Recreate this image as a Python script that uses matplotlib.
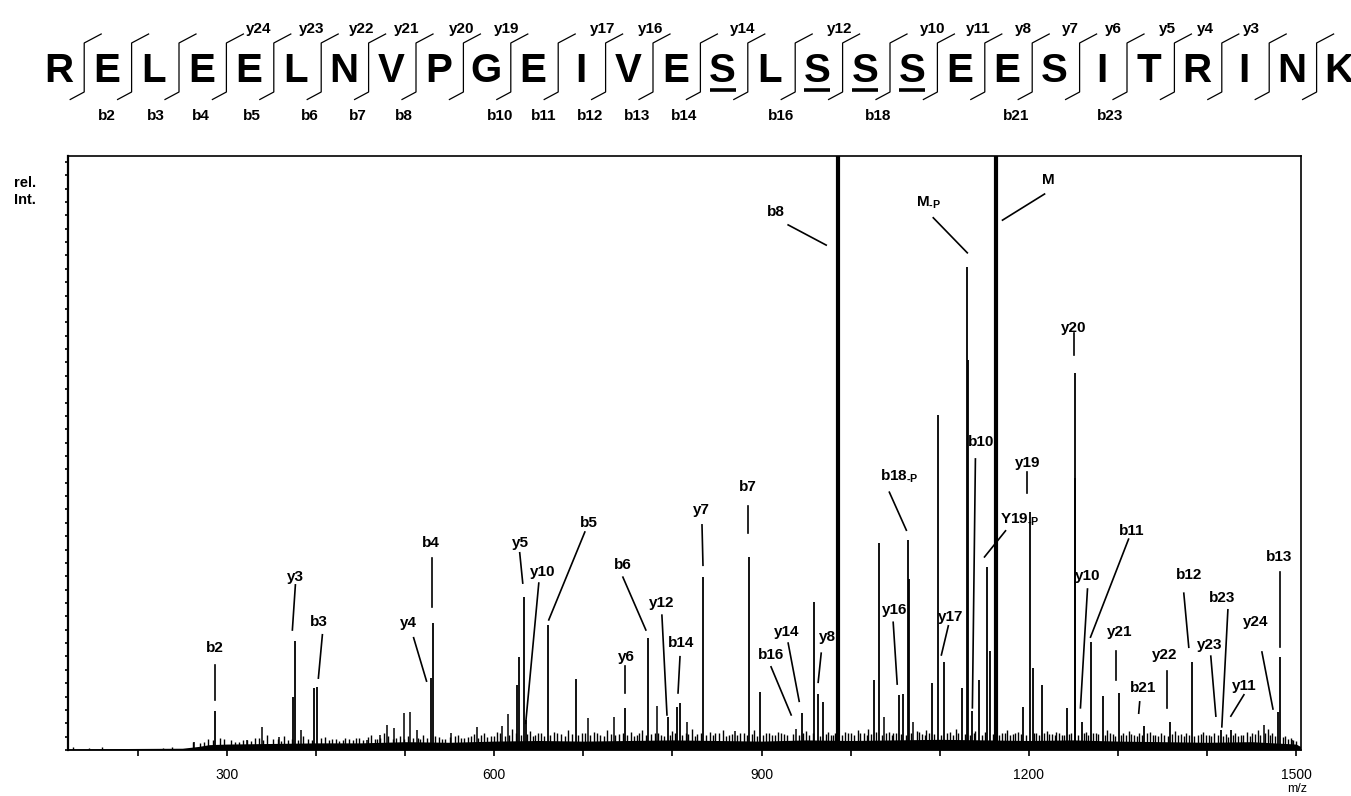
import numpy as np
import matplotlib
matplotlib.use("Agg")
import matplotlib.pyplot as plt

plt.rcParams['font.family'] = ['Liberation Sans', 'DejaVu Sans']
plt.rcParams['mathtext.fontset'] = 'custom'
plt.rcParams['mathtext.rm'] = 'Liberation Sans:bold'
plt.rcParams['mathtext.bf'] = 'Liberation Sans:bold'
plt.rcParams['mathtext.it'] = 'Liberation Sans:bold'

# ---------------- data ----------------
sequence = list("RELEELNVPGEIVESLSSSEESITRINK")
phospho_sites = [14, 16, 17, 18]          # underlined residues (0-based)
b_ion_names = ["b2", "b3", "b4", "b5", "b6", "b7", "b8", "b10", "b11", "b12",
               "b13", "b14", "b16", "b18", "b21", "b23"]
y_ion_names = ["y24", "y23", "y22", "y21", "y20", "y19", "y17", "y16", "y14",
               "y12", "y10", "y11", "y8", "y7", "y6", "y5", "y4", "y3"]

peak_mz = [286.8, 376.8, 374.5, 398.1, 401.2, 528.6, 530.8, 626.0, 627.5, 633.1,
           635.3, 660.1, 691.6, 746.6, 772.1, 795.0, 805.6, 808.0, 834.3, 886.0,
           898.4, 945.6, 959.0, 963.5, 969.0, 986.0, 1026.6, 1032.2, 1054.7, 1059.2,
           1064.8, 1065.5, 1091.8, 1098.6, 1105.3, 1125.6, 1130.6, 1131.5, 1136.0, 1144.6,
           1153.6, 1157.0, 1163.7, 1194.0, 1201.9, 1204.2, 1214.3, 1242.4, 1251.4, 1252.0,
           1259.3, 1269.4, 1282.9, 1300.9, 1329.0, 1358.2, 1383.0, 1415.6, 1426.8, 1479.7,
           1482.0]
peak_int = [6.6, 18.4, 8.9, 10.4, 10.6, 12.1, 21.4, 10.9, 15.7, 25.8,
            5.0, 21.0, 12.0, 7.1, 18.9, 5.6, 7.2, 7.9, 29.1, 32.5,
            9.8, 6.2, 24.9, 9.4, 8.1, 130.0, 11.8, 34.8, 9.3, 9.4,
            35.4, 28.8, 11.3, 56.4, 14.8, 10.4, 81.3, 65.7, 6.5, 11.8,
            30.8, 16.7, 130.0, 7.2, 40.0, 13.8, 10.9, 7.1, 63.5, 45.8,
            4.7, 18.2, 9.1, 9.6, 4.0, 4.7, 14.8, 3.4, 3.4, 6.4,
            15.7]

minor_mz = [262.5, 322.5, 339.3, 358.0, 383.2, 457.4, 472.3, 479.9, 487.3, 498.5,
            505.3, 513.6, 551.0, 581.0, 609.2, 615.5, 704.7, 734.0, 782.3, 816.7,
            870.3, 938.9, 1037.8, 1070.4, 1464.0, 1496.0]
minor_int = [1.3, 1.7, 3.9, 2.2, 3.4, 1.7, 2.5, 4.2, 3.7, 6.2,
             6.4, 3.4, 2.9, 3.9, 4.0, 6.1, 5.4, 5.6, 7.4, 4.7,
             3.2, 3.5, 5.6, 4.7, 4.2, 1.7]

grass_mz = [127, 145, 160, 228, 238, 262, 270, 279, 292, 305, 313, 322, 331, 345, 352,
            364, 369, 385, 391, 410, 418, 426, 433, 441, 448, 462, 468, 476, 494, 509,
            520, 538, 545, 556, 563, 570, 577, 588, 596, 603, 620, 640, 646, 652, 667,
            675, 683, 698, 712, 719, 727, 740, 753, 760, 766, 780, 787, 800, 815, 822,
            828, 842, 848, 857, 863, 876, 892, 905, 912, 919, 925, 950, 975, 980, 994,
            1001, 1008, 1015, 1020, 1043, 1048, 1074, 1080, 1085, 1112, 1118, 1140, 1170, 1176, 1182,
            1188, 1208, 1220, 1226, 1231, 1237, 1247, 1264, 1275, 1288, 1294, 1306, 1312, 1318, 1324,
            1336, 1342, 1348, 1364, 1371, 1377, 1390, 1396, 1402, 1408, 1421, 1432, 1438, 1445, 1451,
            1457, 1468, 1473, 1488, 1494, 1500]
grass_int = [0.5, 0.4, 0.5, 0.4, 0.5, 1.3, 1.2, 1.8, 2.0, 1.6, 1.4, 1.7, 2.1, 2.5, 1.8,
             2.3, 1.6, 2.4, 1.9, 2.2, 1.8, 1.5, 2.0, 1.7, 2.1, 2.6, 1.9, 2.8, 2.3, 2.0,
             2.6, 2.2, 1.9, 2.4, 2.0, 2.2, 2.7, 2.9, 2.4, 3.0, 3.5, 3.2, 2.6, 2.9, 3.0,
             2.7, 3.4, 2.8, 3.1, 2.5, 3.3, 2.7, 3.0, 2.6, 3.4, 2.9, 2.6, 3.2, 2.9, 3.6,
             2.7, 3.1, 2.8, 3.3, 2.6, 2.9, 3.4, 2.8, 2.5, 3.0, 2.7, 3.2, 3.0, 2.6, 3.1,
             2.8, 3.3, 2.9, 3.5, 3.1, 2.8, 3.2, 2.7, 3.4, 3.0, 3.6, 3.2, 2.9, 3.3, 2.7,
             3.1, 2.8, 3.2, 2.7, 3.0, 2.6, 2.9, 3.1, 2.8, 3.3, 2.7, 2.9, 3.2, 2.6, 2.8,
             3.0, 2.5, 2.9, 3.2, 2.7, 2.9, 2.6, 3.0, 2.5, 2.8, 2.7, 2.9, 2.5, 3.1, 2.8,
             3.3, 3.5, 2.9, 2.4, 2.0, 1.5]

grass2_mz = [274, 284, 297, 309, 318, 327, 336, 341, 357, 361,
             373, 380, 395, 405, 414, 422, 430, 437, 445, 453,
             458, 466, 472, 481, 486, 490, 499, 503, 514, 517,
             524, 533, 541, 550, 559, 566, 574, 582, 585, 592,
             600, 607, 612, 617, 624, 630, 637, 644, 649, 656,
             663, 671, 679, 687, 694, 702, 708, 715, 723, 731,
             736, 744, 749, 757, 763, 770, 776, 784, 791, 797,
             803, 811, 818, 825, 832, 838, 845, 852, 860, 867,
             873, 880, 884, 889, 895, 902, 908, 915, 922, 929,
             935, 942, 947, 953, 958, 966, 972, 978, 983, 990,
             997, 1004, 1011, 1018, 1023, 1029, 1035, 1040, 1046, 1051,
             1057, 1062, 1068, 1077, 1083, 1088, 1094, 1102, 1108, 1115,
             1121, 1128, 1134, 1138, 1147, 1151, 1160, 1167, 1173, 1179,
             1185, 1191, 1197, 1206, 1211, 1217, 1223, 1229, 1234, 1240,
             1245, 1255, 1262, 1267, 1272, 1278, 1285, 1291, 1297, 1303,
             1309, 1315, 1321, 1327, 1333, 1339, 1345, 1352, 1356, 1361,
             1367, 1374, 1380, 1386, 1393, 1399, 1405, 1412, 1418, 1424,
             1429, 1435, 1441, 1448, 1454, 1460, 1465, 1471, 1476, 1485,
             1491, 1497]
grass2_int = [1.3, 1.6, 1.9, 1.4, 1.7, 1.5, 2.0, 1.6, 1.8, 1.5,
              1.9, 1.7, 1.6, 2.0, 1.7, 1.9, 1.6, 1.8, 2.0, 1.7,
              2.2, 1.8, 2.0, 2.3, 1.9, 2.1, 1.8, 2.4, 2.0, 1.9,
              2.1, 2.3, 1.9, 2.2, 2.5, 2.0, 2.3, 2.1, 2.6, 2.2,
              2.4, 2.8, 2.3, 2.6, 2.9, 2.5, 2.7, 2.4, 2.8, 2.3,
              2.6, 2.9, 2.4, 2.7, 2.5, 2.8, 2.6, 2.9, 2.4, 2.7,
              2.5, 2.8, 2.6, 2.4, 2.9, 2.5, 2.7, 2.8, 2.4, 2.6,
              2.9, 2.5, 2.7, 2.4, 2.8, 2.6, 2.5, 2.9, 2.4, 2.7,
              2.6, 2.8, 2.5, 2.7, 2.4, 2.6, 2.9, 2.5, 2.8, 2.6,
              2.7, 2.5, 2.9, 2.6, 2.8, 2.4, 2.7, 2.5, 2.9, 2.6,
              2.8, 2.6, 2.9, 2.5, 2.7, 3.0, 2.6, 2.8, 2.5, 2.9,
              2.7, 2.5, 2.8, 3.0, 2.6, 2.9, 2.7, 2.5, 2.8, 2.6,
              2.9, 2.7, 2.5, 2.8, 2.6, 3.0, 2.7, 2.5, 2.8, 2.6,
              2.9, 2.7, 2.5, 2.8, 2.6, 2.9, 2.7, 2.5, 2.8, 2.6,
              2.7, 2.5, 2.8, 2.6, 2.9, 2.7, 2.5, 2.8, 2.4, 2.6,
              2.5, 2.7, 2.4, 2.6, 2.8, 2.5, 2.3, 2.6, 2.4, 2.7,
              2.5, 2.3, 2.6, 2.4, 2.7, 2.5, 2.3, 2.6, 2.4, 2.2,
              2.5, 2.3, 2.6, 2.4, 2.7, 2.5, 2.8, 2.6, 2.4, 2.2,
              1.9, 1.6]

floor_mz = [121, 250, 268, 280, 300, 350, 400, 450, 500, 550, 600, 650, 700, 750, 800,
            850, 900, 950, 1000, 1050, 1100, 1150, 1200, 1250, 1300, 1350, 1400, 1450, 1500, 1505]
floor_int = [0.2, 0.3, 0.6, 0.9, 1.0, 1.1, 1.2, 1.2, 1.4, 1.3, 1.5, 1.6, 1.5, 1.6, 1.7,
             1.6, 1.5, 1.7, 1.6, 1.7, 1.8, 1.7, 1.6, 1.7, 1.5, 1.4, 1.3, 1.4, 1.0, 0.6]

x_major = [300, 600, 900, 1200, 1500]
x_minor = [200, 400, 500, 700, 800, 1000, 1100, 1300, 1400]

# ---------------- layout (pixel positions in the header) ----------------
b_label_x = [107, 156, 201, 252, 310, 358, 404, 500, 544, 590, 637, 684, 781, 878, 1016, 1110]
y_label_x = [259, 312, 362, 407, 462, 507, 603, 651, 743, 840, 933, 978, 1023, 1070, 1113, 1167, 1205, 1251]

SUB = "$_{\\mathregular{\u2010P}}$"

# annotation layout: label, text (mz, int), leader line start, leader line end
annotations = [
    ("b2", 286.8, 17.2, 286.8, 14.3, 286.8, 8.4),
    ("y3", 376.8, 29.1, 376.8, 27.8, 373.4, 20.2),
    ("b3", 403.0, 21.5, 407.1, 19.4, 402.6, 12.1),
    ("y4", 503.8, 21.4, 509.5, 18.9, 524.0, 11.6),
    ("b4", 528.6, 34.8, 529.7, 32.3, 529.7, 24.1),
    ("y5", 629.7, 34.8, 628.6, 33.2, 632.0, 28.1),
    ("y10", 654.5, 30.0, 650.0, 28.1, 635.3, 4.5),
    ("b5", 706.2, 38.2, 701.7, 36.7, 661.2, 21.9),
    ("b6", 744.4, 31.1, 744.4, 29.1, 770.2, 20.2),
    ("y6", 747.8, 15.7, 746.6, 14.1, 746.6, 9.6),
    ("y12", 788.2, 24.7, 788.2, 22.7, 793.9, 5.9),
    ("b14", 809.6, 18.0, 808.5, 15.7, 806.3, 9.6),
    ("y7", 832.0, 40.4, 833.2, 37.9, 834.3, 31.1),
    ("b7", 884.9, 44.3, 884.9, 41.1, 884.9, 36.5),
    ("b16", 910.7, 16.0, 910.7, 14.0, 933.3, 5.9),
    ("y14", 928.8, 19.9, 929.9, 18.0, 942.3, 8.2),
    ("y8", 973.8, 19.0, 967.0, 16.3, 963.6, 11.4),
    ("b8", 916.4, 90.6, 929.9, 88.4, 972.6, 85.0),
    ("M" + SUB, 1087.2, 92.1, 1092.8, 89.6, 1131.0, 83.7),
    ("M", 1222.2, 96.0, 1217.7, 93.6, 1170.5, 89.2),
    ("y20", 1250.3, 71.0, 1250.3, 70.2, 1250.3, 66.5),
    ("b10", 1146.9, 51.9, 1140.1, 49.0, 1136.7, 7.1),
    ("y19", 1199.2, 48.3, 1198.1, 46.8, 1198.1, 43.3),
    ("b18" + SUB, 1054.7, 46.0, 1043.5, 43.4, 1062.6, 37.0),
    ("Y19" + SUB, 1189.6, 38.7, 1173.9, 36.9, 1150.3, 32.5),
    ("y16", 1048.9, 23.6, 1047.8, 21.5, 1052.3, 11.1),
    ("y17", 1112.0, 22.4, 1109.7, 20.9, 1101.9, 16.0),
    ("y10", 1265.9, 29.3, 1265.9, 27.1, 1258.0, 7.1),
    ("b11", 1315.4, 36.9, 1312.0, 35.5, 1269.3, 19.0),
    ("y21", 1302.0, 19.9, 1297.6, 16.7, 1297.6, 11.8),
    ("b21", 1327.9, 10.4, 1324.5, 8.1, 1323.4, 6.2),
    ("y22", 1352.6, 16.0, 1354.8, 13.3, 1354.8, 7.1),
    ("b12", 1379.6, 29.5, 1374.0, 26.4, 1379.6, 17.3),
    ("b23", 1416.7, 25.6, 1423.5, 23.6, 1416.7, 3.9),
    ("y23", 1403.2, 17.7, 1404.3, 15.8, 1410.0, 5.7),
    ("y11", 1441.5, 10.8, 1441.5, 9.3, 1426.8, 5.7),
    ("y24", 1455.0, 21.5, 1461.7, 16.5, 1474.1, 6.9),
    ("b13", 1480.8, 32.5, 1481.9, 30.0, 1481.9, 17.3),
]

# ---------------- figure ----------------
W, H = 1351, 796
fig = plt.figure(figsize=(W / 100, H / 100), dpi=100)

# header (sequence) drawn in pixel space
hax = fig.add_axes([0, 0, 1, 1])
hax.set_xlim(0, W)
hax.set_ylim(H, 0)
hax.axis('off')

x0, dx = 59.0, 47.4
for i, aa in enumerate(sequence):
    xc = x0 + dx * i
    hax.text(xc, 82, aa, fontsize=29, fontweight='bold', ha='center', va='baseline')
    if i in phospho_sites:
        hax.plot([xc - 13, xc + 13], [90, 90], color='black', lw=2.6, solid_capstyle='butt')
for k in range(1, len(sequence)):
    bx = x0 + dx * (k - 0.5) + 1.5
    hax.plot([bx - 14, bx, bx, bx + 17], [99.5, 92, 43, 34], color='black', lw=0.9)
for name, xl in zip(b_ion_names, b_label_x):
    hax.text(xl, 120, name, fontsize=11, fontweight='bold', ha='center', va='baseline')
for name, xl in zip(y_ion_names, y_label_x):
    hax.text(xl, 33, name, fontsize=11, fontweight='bold', ha='center', va='baseline')

hax.text(14, 183, "rel.", fontsize=10.5, fontweight='bold', ha='left', va='center')
hax.text(14, 200, "Int.", fontsize=10.5, fontweight='bold', ha='left', va='center')
hax.text(1297, 789, "m/z", fontsize=9, ha='center', va='center')

# spectrum axes
ax = fig.add_axes([67.5 / W, 1 - 750 / H, (1300.5 - 67.5) / W, (750 - 156) / H])
ax.set_xlim(121, 1505)
ax.set_ylim(0, 100)
ax.patch.set_alpha(0)

ax.fill_between(floor_mz, 0, floor_int, color='black', lw=0)
ax.vlines(grass_mz, 0, grass_int, color='black', lw=1.0)
ax.vlines(grass2_mz, 0, grass2_int, color='black', lw=1.0)
ax.vlines(minor_mz, 0, minor_int, color='black', lw=1.1)
lws = [3.0 if v > 100 else 1.3 for v in peak_int]
ax.vlines(peak_mz, 0, peak_int, color='black', lw=lws)

for lab, tx, ty, x1, y1, x2, y2 in annotations:
    ax.text(tx, ty, lab, fontsize=11, fontweight='bold', ha='center', va='center')
    ax.plot([x1, x2], [y1, y2], color='black', lw=1.2, clip_on=False)

for s in ax.spines.values():
    s.set_linewidth(1.2)
ax.spines['left'].set_linewidth(1.6)

ax.set_xticks(x_major)
ax.set_xticklabels([str(v) for v in x_major])
ax.set_xticks(x_minor, minor=True)
ax.tick_params(axis='x', which='both', direction='out', length=4, width=1.2,
               labelsize=10, pad=9)
ax.set_yticks(np.arange(0, 100.1, 2.25))
ax.set_yticklabels([])
ax.tick_params(axis='y', direction='out', length=2.5, width=1.2)

fig.savefig("out.png", dpi=100)
